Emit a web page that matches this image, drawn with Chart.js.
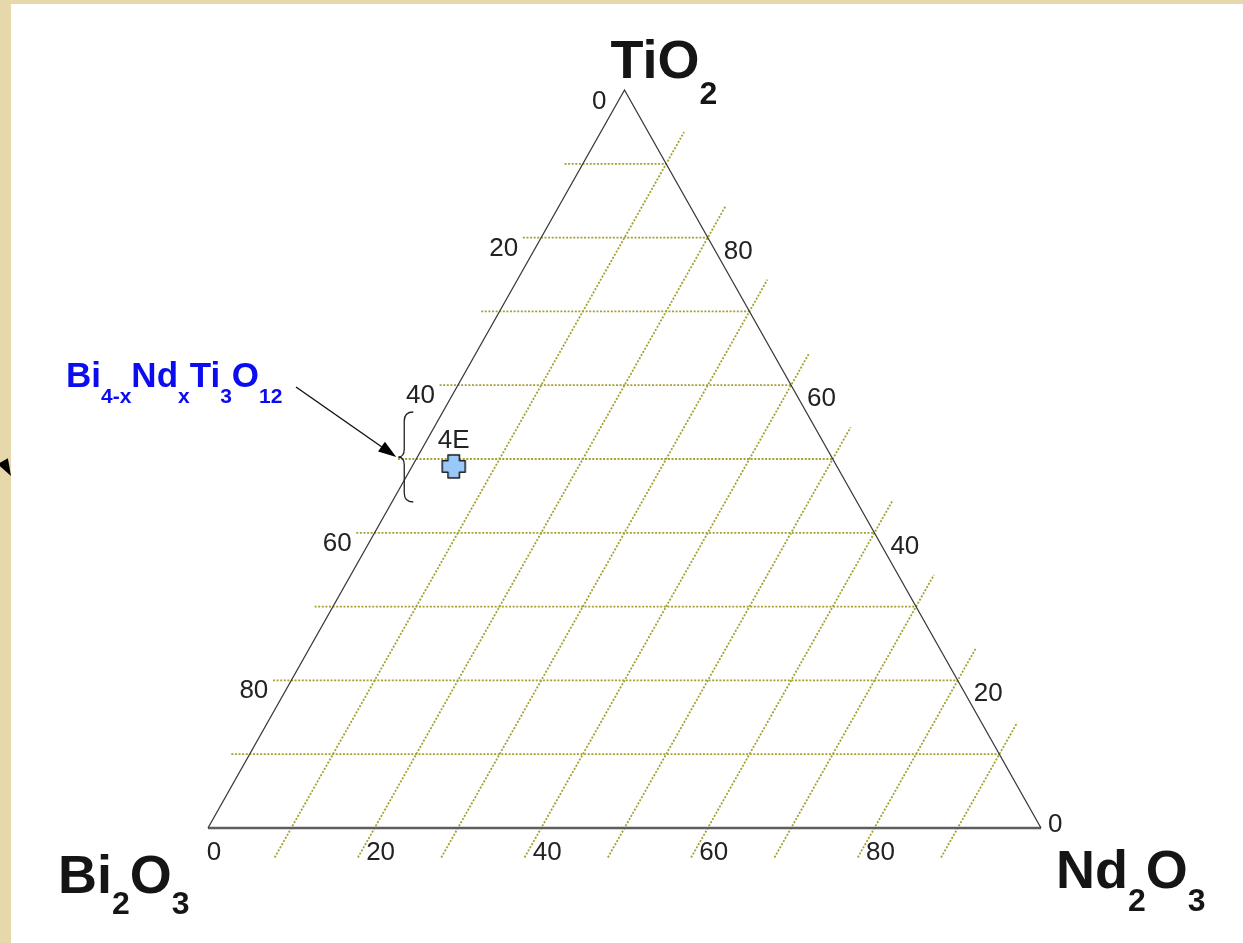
<!DOCTYPE html>
<html>
<head>
<meta charset="utf-8">
<title>Bi2O3 - Nd2O3 - TiO2</title>
<script src="https://cdn.jsdelivr.net/npm/chart.js@4.4.1/dist/chart.umd.min.js"></script>
<style>
  html, body { margin: 0; padding: 0; background: #fff; }
  #wrap { width: 1243px; height: 943px; }
</style>
</head>
<body>
<div id="wrap"><canvas id="ternaryChart" width="1243" height="943"></canvas></div>
<script>
// grid levels and tick labels (mol %)
var gridLevels = [10, 20, 30, 40, 50, 60, 70, 80, 90];
var tickValues = [0, 20, 40, 60, 80];

// measured compositions
var sampleNames = ["4E"];
var sampleBi2O3 = [46];
var sampleNd2O3 = [5];
var sampleTiO2 = [49];

// phase label
var phaseFormula = ["Bi", "_4-x", "Nd", "_x", "Ti", "_3", "O", "_12"];

// ternary -> cartesian: Bi2O3 at (0,0), Nd2O3 at (1,0), TiO2 at (0.5,1)
function tern(nd, ti) {
  return { x: nd / 100 + ti / 200, y: ti / 100 };
}

var gridStyle = {
  showLine: true,
  pointRadius: 0,
  borderColor: "#a4a130",
  borderWidth: 1.8,
  borderDash: [2, 1.6],
  fill: false,
  order: 3,
};

// lines of constant TiO2, running a little past the left edge
var tiGrid = gridLevels.map(function (t) {
  return Object.assign({ data: [tern(-2.2, t), tern(100 - t, t)] }, gridStyle);
});
// lines of constant Nd2O3, running past the base and the right edge
var ndGrid = gridLevels.map(function (n) {
  return Object.assign({ data: [tern(n, -4), tern(n, 104.3 - n)] }, gridStyle);
});

function plusMarker(size, arm) {
  var c = document.createElement("canvas");
  c.width = c.height = size + 4;
  var g = c.getContext("2d");
  var m = (size + 4) / 2, h = size / 2, a = arm / 2;
  g.beginPath();
  g.moveTo(m - a, m - h);
  g.lineTo(m + a, m - h);
  g.lineTo(m + a, m - a);
  g.lineTo(m + h, m - a);
  g.lineTo(m + h, m + a);
  g.lineTo(m + a, m + a);
  g.lineTo(m + a, m + h);
  g.lineTo(m - a, m + h);
  g.lineTo(m - a, m + a);
  g.lineTo(m - h, m + a);
  g.lineTo(m - h, m - a);
  g.lineTo(m - a, m - a);
  g.closePath();
  g.lineJoin = "round";
  g.fillStyle = "#99c9fb";
  g.fill();
  g.lineWidth = 1.5;
  g.strokeStyle = "#1c1c1c";
  g.stroke();
  return c;
}

var samplePoints = sampleNames.map(function (name, i) {
  var p = tern(sampleNd2O3[i], sampleTiO2[i]);
  p.name = name;
  return p;
});

function drawFormula(ctx, parts, x, y, size, subSize, drop, color) {
  ctx.fillStyle = color;
  ctx.textAlign = "left";
  ctx.textBaseline = "alphabetic";
  parts.forEach(function (p) {
    var sub = p.charAt(0) === "_";
    var txt = sub ? p.slice(1) : p;
    ctx.font = "bold " + (sub ? subSize : size) + "px 'Liberation Sans', Arial, sans-serif";
    ctx.fillText(txt, x, sub ? y + drop : y);
    x += ctx.measureText(txt).width;
  });
}

var ternaryDecor = {
  id: "ternaryDecor",
  beforeDraw: function (chart) {
    var ctx = chart.ctx;
    ctx.save();
    ctx.fillStyle = "#e6d8ab";
    ctx.fillRect(0, 0, chart.width, chart.height);
    ctx.fillStyle = "#ffffff";
    ctx.fillRect(11, 4, chart.width - 11, chart.height - 4);
    ctx.restore();
  },
  afterDatasetsDraw: function (chart) {
    var ctx = chart.ctx;
    var sx = chart.scales.x, sy = chart.scales.y;
    function px(nd, ti) {
      var p = tern(nd, ti);
      return { x: sx.getPixelForValue(p.x), y: sy.getPixelForValue(p.y) };
    }
    ctx.save();
    ctx.font = "26px 'Liberation Sans', Arial, sans-serif";
    ctx.fillStyle = "#222";
    ctx.textBaseline = "alphabetic";

    // Bi2O3 scale along the left edge (0 at the TiO2 corner)
    tickValues.forEach(function (v) {
      var e = px(0, 100 - v);
      ctx.textAlign = "right";
      if (v === 0) ctx.fillText(String(v), e.x - 18, e.y + 19);
      else ctx.fillText(String(v), e.x - 23, e.y + 18);
    });
    // TiO2 scale along the right edge
    tickValues.forEach(function (v) {
      var e = px(100 - v, v);
      ctx.textAlign = "left";
      if (v === 0) ctx.fillText(String(v), e.x + 7, e.y + 4);
      else ctx.fillText(String(v), e.x + 16, e.y + 21);
    });
    // Nd2O3 scale along the base
    tickValues.forEach(function (v) {
      var e = px(v, 0);
      ctx.textAlign = "center";
      ctx.fillText(String(v), e.x + 6, e.y + 32);
    });

    // sample labels
    samplePoints.forEach(function (p) {
      ctx.textAlign = "center";
      ctx.fillText(p.name, sx.getPixelForValue(p.x), sy.getPixelForValue(p.y) - 18);
    });

    // corner formulas
    var ti = px(0, 100), bi = px(0, 0), nd = px(100, 0);
    drawFormula(ctx, ["TiO", "_2"], ti.x - 14, ti.y - 12, 54, 32, 26, "#151515");
    drawFormula(ctx, ["Bi", "_2", "O", "_3"], bi.x - 150, bi.y + 65, 54, 32, 21, "#151515");
    drawFormula(ctx, ["Nd", "_2", "O", "_3"], nd.x + 15, nd.y + 60, 54, 32, 23, "#151515");

    // brace around the solid-solution region on the Bi2O3-TiO2 edge
    var b = px(0, 50);
    var cx = b.x - 12, cy = b.y - 2;
    ctx.beginPath();
    ctx.moveTo(cx + 9, cy - 45);
    ctx.quadraticCurveTo(cx, cy - 45, cx, cy - 36);
    ctx.lineTo(cx, cy - 8);
    ctx.quadraticCurveTo(cx, cy, cx - 6, cy);
    ctx.quadraticCurveTo(cx, cy, cx, cy + 8);
    ctx.lineTo(cx, cy + 36);
    ctx.quadraticCurveTo(cx, cy + 45, cx + 9, cy + 45);
    ctx.lineWidth = 1.3;
    ctx.strokeStyle = "#222";
    ctx.stroke();

    // phase label and arrow to the brace
    drawFormula(ctx, phaseFormula, 66, 387, 35, 21, 16, "#0c0cf0");
    var ax0 = 296, ay0 = 387, ax1 = cx - 8, ay1 = cy;
    var ang = Math.atan2(ay1 - ay0, ax1 - ax0);
    ctx.beginPath();
    ctx.moveTo(ax0, ay0);
    ctx.lineTo(ax1 - 14 * Math.cos(ang), ay1 - 14 * Math.sin(ang));
    ctx.lineWidth = 1.4;
    ctx.strokeStyle = "#111";
    ctx.stroke();
    function head(x, y, a, len, w) {
      ctx.beginPath();
      ctx.moveTo(x, y);
      ctx.lineTo(x - len * Math.cos(a) + w * Math.sin(a), y - len * Math.sin(a) - w * Math.cos(a));
      ctx.lineTo(x - len * Math.cos(a) - w * Math.sin(a), y - len * Math.sin(a) + w * Math.cos(a));
      ctx.closePath();
      ctx.fillStyle = "#000";
      ctx.fill();
    }
    head(ax1, ay1, ang, 18, 6);
    // arrow tip entering from the left margin
    head(11, 476, Math.atan2(16, 9), 17, 6);
    ctx.restore();
  },
};

var ctxTernary = document.getElementById("ternaryChart").getContext("2d");
var ternaryChart = new Chart(ctxTernary, {
  type: "scatter",
  data: {
    datasets: [
      {
        data: samplePoints,
        pointStyle: plusMarker(23, 11.5),
        pointRadius: 12,
        order: 0,
      },
      {
        // Bi2O3 -> TiO2 -> Nd2O3
        data: [tern(0, 0), tern(0, 100), tern(100, 0)],
        showLine: true,
        pointRadius: 0,
        borderColor: "#3a3a3a",
        borderWidth: 1.3,
        fill: false,
        order: 1,
      },
      {
        // base
        data: [tern(0, 0), tern(100, 0)],
        showLine: true,
        pointRadius: 0,
        borderColor: "#5e5e5e",
        borderWidth: 2.4,
        fill: false,
        order: 1,
      },
    ].concat(tiGrid, ndGrid),
  },
  options: {
    responsive: false,
    devicePixelRatio: 1,
    animation: false,
    events: [],
    layout: { padding: 0, autoPadding: false },
    scales: {
      x: { type: "linear", display: false, min: -208 / 833, max: 1035 / 833 },
      y: { type: "linear", display: false, min: (828 - 943) / 738, max: 828 / 738 },
    },
    plugins: {
      legend: { display: false },
      tooltip: { enabled: false },
      title: { display: false },
    },
  },
  plugins: [ternaryDecor],
});
</script>
</body>
</html>
